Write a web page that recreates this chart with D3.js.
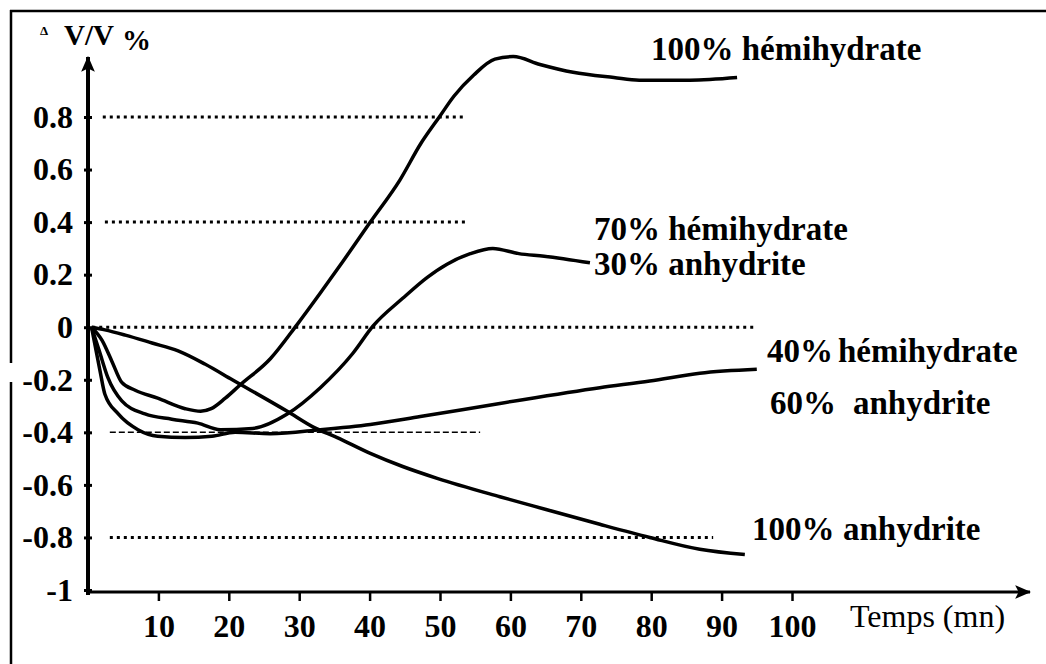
<!DOCTYPE html>
<html>
<head>
<meta charset="utf-8">
<script src="https://cdn.jsdelivr.net/npm/d3@7"></script>
<style>
  body { margin: 0; background: #fff; }
  svg { display: block; font-family: "Liberation Serif", "Times New Roman", serif; }
  svg .tick text { font-family: "Liberation Serif", "Times New Roman", serif; font-size: 32px; font-weight: bold; fill: #000; }
  .curve-label { font-size: 33px; font-weight: bold; }
</style>
</head>
<body>
<div id="chart"></div>
<script>
const W = 1046, H = 664;

// tick values / labels
const xTicks = [10, 20, 30, 40, 50, 60, 70, 80, 90, 100];
const yTicks = [-1, -0.8, -0.6, -0.4, -0.2, 0, 0.2, 0.4, 0.6, 0.8];
const yTickLabels = ['-1', '-0.8', '-0.6', '-0.4', '-0.2', '0', '0.2', '0.4', '0.6', '0.8'];

// dotted reference levels and where they start / stop (minutes)
const refLevels = [0.8, 0.4, 0, -0.4, -0.8];
const refStart = [2.1, 2.4, 0.6, 3.1, 3.1];
const refEnd = [53.7, 53.7, 95, 55.7, 88.8];

// series: [temps (mn), dV/V %]
const hemi100 = [[0.5, 0], [2, -0.05], [3.4, -0.13], [4.8, -0.21], [6.7, -0.24], [9.9, -0.27],
  [13.8, -0.31], [16, -0.32], [17.5, -0.31], [19.5, -0.27], [21.6, -0.22], [25.9, -0.12],
  [29.7, 0.01], [33, 0.13], [36.2, 0.25], [40.1, 0.4], [44.3, 0.56], [47.3, 0.7], [49.9, 0.8],
  [52, 0.88], [54.8, 0.96], [57.8, 1.02], [60.4, 1.03], [64.2, 1.0], [68.9, 0.97], [74.7, 0.95],
  [78.3, 0.94], [85.5, 0.94], [92.2, 0.95]];
const hemi70 = [[0.5, 0], [1.6, -0.09], [2.8, -0.19], [4.8, -0.28], [8.1, -0.33], [11.9, -0.35],
  [15.6, -0.365], [18.8, -0.39], [23.4, -0.385], [28.3, -0.33], [33, -0.23], [37.6, -0.1],
  [40.5, 0.005], [44.7, 0.11], [48.2, 0.19], [51, 0.24], [54.3, 0.28], [57.5, 0.3],
  [61.2, 0.28], [64.8, 0.27], [71.3, 0.245]];
const hemi40 = [[0.5, 0], [1.7, -0.165], [2.4, -0.255], [4.3, -0.33], [7.1, -0.39], [9.9, -0.415],
  [13.8, -0.42], [17.6, -0.415], [20.9, -0.4], [25.9, -0.405], [33, -0.39], [40.1, -0.37],
  [47.2, -0.34], [58.5, -0.29], [72.7, -0.23], [79.8, -0.205], [86.9, -0.175], [95, -0.16]];
const anhy100 = [[0.5, 0], [2.4, -0.01], [5.3, -0.03], [9.1, -0.06], [12.8, -0.09], [16.6, -0.14],
  [20.5, -0.2], [28.3, -0.32], [32, -0.38], [35.4, -0.42], [40.1, -0.48], [44.7, -0.53],
  [49.6, -0.575], [58.5, -0.645], [63.2, -0.68], [72.7, -0.75], [79.8, -0.8], [86.9, -0.845],
  [93.3, -0.865]];

const series = [hemi100, hemi70, hemi40, anhy100];

const x = d3.scaleLinear().domain([0, 100]).range([88, 792]);
const y = d3.scaleLinear().domain([-1, 0.8]).range([590, 117]);

const svg = d3.select('#chart').append('svg')
  .attr('width', W)
  .attr('height', H);

const defs = svg.append('defs');
defs.append('marker')
  .attr('id', 'arrow')
  .attr('viewBox', '0 -6 14 12')
  .attr('refX', 13)
  .attr('refY', 0)
  .attr('markerUnits', 'userSpaceOnUse')
  .attr('markerWidth', 16)
  .attr('markerHeight', 14)
  .attr('orient', 'auto')
  .append('path')
    .attr('d', 'M0,-6L14,0L0,6L3,0Z')
    .attr('fill', '#000');

// frame (scan border)
svg.append('line').attr('x1', 10).attr('y1', 11).attr('x2', W).attr('y2', 11)
  .attr('stroke', '#000').attr('stroke-width', 2.5);
svg.append('line').attr('x1', 11).attr('y1', 10).attr('x2', 11).attr('y2', 363)
  .attr('stroke', '#000').attr('stroke-width', 2.5);
svg.append('line').attr('x1', 11).attr('y1', 382).attr('x2', 11).attr('y2', H)
  .attr('stroke', '#000').attr('stroke-width', 2.5);

// dotted reference lines
svg.append('g').selectAll('line')
  .data(refLevels)
  .enter().append('line')
    .attr('x1', (d, i) => x(refStart[i]))
    .attr('x2', (d, i) => x(refEnd[i]))
    .attr('y1', d => y(d))
    .attr('y2', d => y(d))
    .attr('stroke', '#000')
    .attr('stroke-width', (d, i) => (i === 3 ? 1.5 : 3))
    .attr('stroke-dasharray', (d, i) => (i === 3 ? '6,3' : '3,4'));

// axes
const yAxis = d3.axisLeft(y)
  .tickValues(yTicks)
  .tickFormat((d, i) => yTickLabels[i])
  .tickSize(5)
  .tickPadding(10);
const gy = svg.append('g')
  .attr('transform', 'translate(' + x(0) + ',0)')
  .call(yAxis);
gy.attr('font-family', null);
gy.select('.domain').remove();
gy.selectAll('.tick line').attr('stroke-width', 3).attr('x2', 4).attr('x1', -4);

const xAxis = d3.axisBottom(x)
  .tickValues(xTicks)
  .tickFormat(d3.format('d'))
  .tickSize(9)
  .tickPadding(13);
const gx = svg.append('g')
  .attr('transform', 'translate(0,' + (y(-1) + 2) + ')')
  .call(xAxis);
gx.attr('font-family', null);
gx.select('.domain').remove();
gx.selectAll('.tick line').attr('stroke-width', 2.5);

svg.append('line')
  .attr('x1', x(0)).attr('y1', y(-1) + 5)
  .attr('x2', x(0)).attr('y2', 57)
  .attr('stroke', '#000').attr('stroke-width', 4)
  .attr('marker-end', 'url(#arrow)');
svg.append('line')
  .attr('x1', x(0)).attr('y1', y(-1) + 2)
  .attr('x2', 1030).attr('y2', y(-1) + 2)
  .attr('stroke', '#000').attr('stroke-width', 3)
  .attr('marker-end', 'url(#arrow)');

// curves
const line = d3.line()
  .x(d => x(d[0]))
  .y(d => y(d[1]))
  .curve(d3.curveMonotoneX);

svg.append('g').selectAll('path')
  .data(series)
  .enter().append('path')
    .attr('d', line)
    .attr('fill', 'none')
    .attr('stroke', '#000')
    .attr('stroke-width', 3.5)
    .attr('stroke-linejoin', 'round');

// axis titles
const title = svg.append('text').attr('x', 40).attr('y', 45).attr('font-weight', 'bold');
title.append('tspan').attr('font-size', 13).attr('dy', -10).text('\u0394');
title.append('tspan').attr('x', 64).attr('dy', 10).attr('font-size', 29).text('V/V');
title.append('tspan').attr('x', 122).attr('dy', 5).attr('font-size', 29).text('%');

svg.append('text')
  .attr('x', 850).attr('y', 627)
  .attr('font-size', 32)
  .text('Temps (mn)');

// curve labels
const labels = [
  { t: '100% hémihydrate', x: 651, y: 60 },
  { t: '70% hémihydrate', x: 594, y: 240 },
  { t: '30% anhydrite', x: 594, y: 275 },
  { t: '40%', x: 767, y: 362 },
  { t: 'hémihydrate', x: 838, y: 362 },
  { t: '60%', x: 770, y: 414 },
  { t: 'anhydrite', x: 853, y: 414 },
  { t: '100%', x: 752, y: 540 },
  { t: 'anhydrite', x: 843, y: 540 }
];
svg.append('g').selectAll('text')
  .data(labels)
  .enter().append('text')
    .attr('class', 'curve-label')
    .attr('x', d => d.x)
    .attr('y', d => d.y)
    .text(d => d.t);
</script>
</body>
</html>
